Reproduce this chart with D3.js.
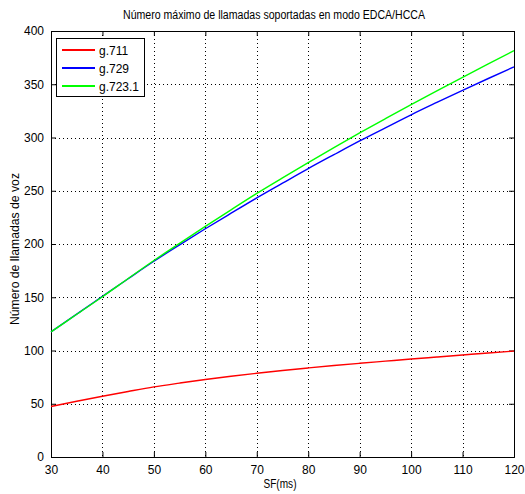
<!DOCTYPE html>
<html><head><meta charset="utf-8">
<script src="https://cdn.jsdelivr.net/npm/d3@7"></script>
<style>
html,body{margin:0;padding:0;background:#fff;}
text{font-family:"Liberation Sans",Arial,Helvetica,sans-serif;fill:#000;}
</style></head>
<body><svg id="c" width="525" height="494"></svg>
<script>
const sf = [30,35,40,45,50,55,60,65,70,75,80,85,90,95,100,105,110,115,120];
const g711 = [47.4,52.3,57.0,61.5,65.8,69.4,72.8,75.8,78.6,81.2,83.6,85.9,88.0,90.0,92.0,93.9,95.8,97.7,99.5];
const g729 = [117.5,134.2,150.8,167.4,183.8,199.2,214.3,228.9,243.3,257.1,270.8,283.9,296.8,309.1,321.3,332.9,344.3,355.4,366.3];
const g7231 = [117.5,134.0,150.5,167.6,184.5,200.6,216.5,232.1,247.5,262.1,276.5,290.5,304.3,317.7,330.9,343.8,356.5,369.1,381.5];
const seriesNames = ["g.711","g.729","g.723.1"];
const seriesColors = ["#ff0000","#0000ff","#00ff00"];
const xTicks = [30,40,50,60,70,80,90,100,110,120];
const yTicks = [0,50,100,150,200,250,300,350,400];

const L=51, R=514, T=31, B=457;
const svg = d3.select("#c");
const x = d3.scaleLinear().domain([30,120]).range([L,R]);
const y = d3.scaleLinear().domain([0,400]).range([B,T]);

// grid
const g = svg.append("g");
g.selectAll("line.gx").data(xTicks.slice(1,-1)).join("line")
 .attr("x1",d=>Math.round(x(d))+0.5).attr("x2",d=>Math.round(x(d))+0.5).attr("y1",T).attr("y2",B)
 .attr("stroke","#000").attr("stroke-width",1).attr("stroke-dasharray","1,3");
g.selectAll("line.gy").data(yTicks.slice(1,-1)).join("line")
 .attr("y1",d=>Math.round(y(d))+0.5).attr("y2",d=>Math.round(y(d))+0.5).attr("x1",L).attr("x2",R)
 .attr("stroke","#000").attr("stroke-width",1).attr("stroke-dasharray","1,3");

// axes
const ax = svg.append("g").attr("transform",`translate(0,${B})`)
 .call(d3.axisBottom(x).tickValues(xTicks).tickSize(-5).tickPadding(8));
const axT = svg.append("g").attr("transform",`translate(0,${T})`)
 .call(d3.axisTop(x).tickValues(xTicks).tickSize(-5).tickFormat(""));
const ay = svg.append("g").attr("transform",`translate(${L},0)`)
 .call(d3.axisLeft(y).tickValues(yTicks).tickSize(-5).tickPadding(7));
const ayR = svg.append("g").attr("transform",`translate(${R},0)`)
 .call(d3.axisRight(y).tickValues(yTicks).tickSize(-5).tickFormat(""));
[ax,axT,ay,ayR].forEach(a=>{
  a.selectAll("path").attr("stroke","#000").attr("stroke-width",1);
  a.selectAll("line").attr("stroke","#000");
  a.selectAll("text").attr("font-size",12).attr("font-family","Liberation Sans, Arial, sans-serif").attr("fill","#000");
});

// lines
const data = [g711,g729,g7231];
const line = d3.line().curve(d3.curveMonotoneX).x((d,i)=>x(sf[i])).y(d=>y(d));
data.forEach((s,k)=>{
  svg.append("path").attr("d",line(s)).attr("fill","none")
   .style("stroke",seriesColors[k]).attr("stroke-width",1.4);
});

// legend
const lg = svg.append("g");
lg.append("rect").attr("x",56.5).attr("y",38.5).attr("width",88).attr("height",58)
 .attr("fill","#fff").attr("stroke","#000").attr("stroke-width",1);
seriesNames.forEach((n,i)=>{
  const yy = 50 + i*18;
  lg.append("path").attr("d",`M62,${yy}H95`).attr("fill","none")
   .style("stroke",seriesColors[i]).style("stroke-width","2px");
  lg.append("text").attr("x",99).attr("y",yy+4.5).attr("font-size",12).text(n);
});

// titles
svg.append("text").attr("x",274).attr("y",19).attr("text-anchor","middle")
 .attr("font-size",12).attr("textLength",302).attr("lengthAdjust","spacingAndGlyphs")
 .text("Número máximo de llamadas soportadas en modo EDCA/HCCA");
svg.append("text").attr("x",280).attr("y",488).attr("text-anchor","middle")
 .attr("font-size",12).attr("textLength",33).attr("lengthAdjust","spacingAndGlyphs").text("SF(ms)");
svg.append("text").attr("transform",`translate(19,249) rotate(-90)`).attr("text-anchor","middle")
 .attr("font-size",12).attr("textLength",152).attr("lengthAdjust","spacingAndGlyphs")
 .text("Número de llamadas de voz");
</script></body></html>
